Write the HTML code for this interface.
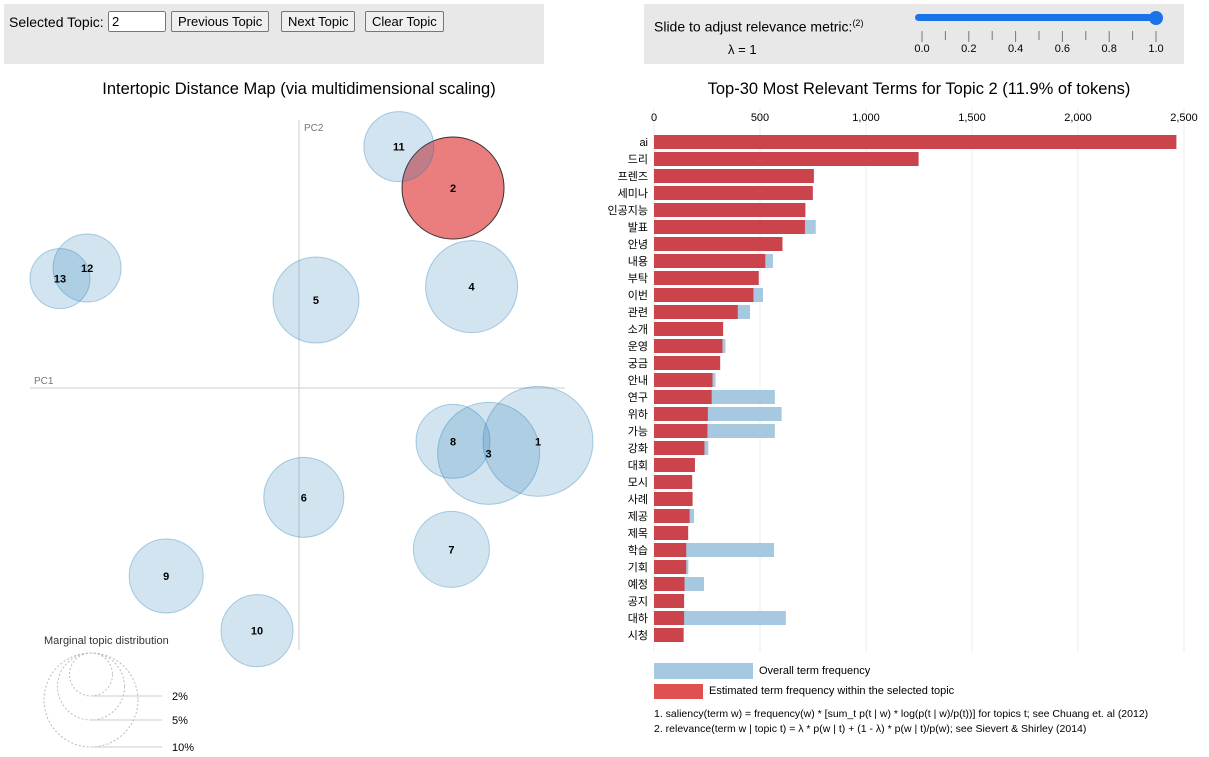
<!DOCTYPE html>
<html><head><meta charset="utf-8"><style>
body{margin:0;width:1209px;height:757px;background:#fff;font-family:"Liberation Sans","Noto Sans CJK KR",sans-serif;overflow:hidden;position:relative}
.panel{position:absolute;background:#e8e8e8}
button{font-family:"Liberation Sans",sans-serif;font-size:13px;padding:1px 6px;background:#efefef;border:1px solid #767676;border-radius:2px;height:21px}
</style></head><body>
<div class="panel" style="left:4px;top:4px;width:540px;height:60px">
<span style="position:absolute;left:5px;top:10px;font-size:14px">Selected Topic:</span>
<input value="2" style="position:absolute;left:104px;top:7px;width:58px;height:21px;box-sizing:border-box;font-size:13px">
<button style="position:absolute;left:167px;top:7px">Previous Topic</button>
<button style="position:absolute;left:277px;top:7px">Next Topic</button>
<button style="position:absolute;left:361px;top:7px">Clear Topic</button>
</div>
<div class="panel" style="left:644px;top:4px;width:540px;height:60px">
<span style="position:absolute;left:10px;top:14px;font-size:14px">Slide to adjust relevance metric:<sup style="font-size:9px">(2)</sup></span>
<span style="position:absolute;left:84px;top:38px;font-size:13px">λ = 1</span>
<svg style="position:absolute;left:0;top:0" width="540" height="60">
<rect x="271" y="10" width="241" height="7" rx="3.5" fill="#1a73e8"/><circle cx="512" cy="14" r="7" fill="#1a73e8"/>
<g id="sticks" stroke="#777"></g><g id="slabels" font-size="11" text-anchor="middle"></g>
</svg>
</div>
<svg width="1209" height="757" style="position:absolute;left:0;top:0;pointer-events:none" id="main">
<text x="299" y="94" font-size="16.5" text-anchor="middle">Intertopic Distance Map (via multidimensional scaling)</text>
<text x="919" y="94" font-size="16.5" text-anchor="middle">Top-30 Most Relevant Terms for Topic 2 (11.9% of tokens)</text>
<line x1="30" y1="388" x2="565" y2="388" stroke="#ccc"/>
<line x1="299" y1="120" x2="299" y2="650" stroke="#ccc"/>
<text x="34" y="384" font-size="10" fill="#777">PC1</text>
<text x="304" y="131" font-size="10" fill="#777">PC2</text>
<g id="circles"></g>
<text x="44" y="644" font-size="11" fill="#333">Marginal topic distribution</text>
<g id="marg" fill="none" stroke="#bbb" stroke-dasharray="2,2"></g>
<g id="bars"></g>
<rect x="654" y="663" width="99" height="16" fill="#a6c8e0"/>
<text x="759" y="674" font-size="11">Overall term frequency</text>
<rect x="654" y="684" width="49" height="15" fill="#e05050"/>
<text x="709" y="694" font-size="11">Estimated term frequency within the selected topic</text>
<text x="654" y="717" font-size="10.5">1. saliency(term w) = frequency(w) * [sum_t p(t | w) * log(p(t | w)/p(t))] for topics t; see Chuang et. al (2012)</text>
<text x="654" y="732" font-size="10.5">2. relevance(term w | topic t) = λ * p(w | t) + (1 - λ) * p(w | t)/p(w); see Sievert &amp; Shirley (2014)</text>
</svg>
<script>
const terms=["ai","드리","프렌즈","세미나","인공지능","발표","안녕","내용","부탁","이번","관련","소개","운영","궁금","안내","연구","위하","가능","강화","대회","모시","사례","제공","제목","학습","기회","예정","공지","대하","시청"];
const overall=[2464,1248,754,749,714,763,606,561,494,514,453,326,337,312,290,570,602,570,256,193,180,182,189,161,566,162,236,142,622,141];
const estimated=[2464,1248,754,749,714,712,606,525,494,469,395,326,323,312,276,272,254,252,238,193,180,182,168,161,152,152,144,142,142,139];
const ticks=[0,500,1000,1500,2000,2500];
const topicIds=[1,2,3,4,5,6,7,8,9,10,11,12,13];
const topicX=[0.45,0.29,0.357,0.325,0.032,0.009,0.287,0.29,-0.25,-0.079,0.188,-0.399,-0.45];
const topicY=[-0.2,0.75,-0.245,0.38,0.33,-0.41,-0.605,-0.2,-0.705,-0.91,0.905,0.45,0.41];
const topicR=[55,51,51,46,43,40,38,37,37,36,35,34,30];
const NS="http://www.w3.org/2000/svg";
function mk(t,a,p){const e=document.createElementNS(NS,t);for(const k in a)e.setAttribute(k,a[k]);p.appendChild(e);return e;}
const xs=v=>654+v*530/2500;
const ry=i=>135+i*17;
const bars=document.getElementById('bars');
ticks.forEach(t=>{const g=mk('g',{},bars);


mk('line',{x1:xs(t),x2:xs(t),y1:108,y2:652,stroke:'#eee'},g);
const tx=mk('text',{x:xs(t),y:121,'font-size':11,'text-anchor':'middle'},g);tx.textContent=t.toLocaleString('en-US');});
terms.forEach((t,i)=>{
const b=mk('rect',{x:xs(0),y:ry(i),width:xs(overall[i])-xs(0),height:14,fill:'#a6c8e0'},bars);


const r=mk('rect',{x:xs(0),y:ry(i),width:xs(estimated[i])-xs(0),height:14,fill:'#cc444b'},bars);


const l=mk('text',{x:648,y:ry(i)+11,'font-size':11,'text-anchor':'end'},bars);l.textContent=t;

});
const px=v=>299+v*(538-299)/0.45, py=v=>388-v*(388-148)/0.9;
const cg=document.getElementById('circles');
topicIds.forEach((id,i)=>{const sel=id===2;
const c=mk('circle',{cx:px(topicX[i]),cy:py(topicY[i]),r:topicR[i],fill:sel?'rgba(220,40,40,0.6)':'rgba(31,119,180,0.2)',stroke:sel?'#333':'rgba(31,119,180,0.35)'},cg);

});
topicIds.forEach((id,i)=>{const t=mk('text',{x:px(topicX[i]),y:py(topicY[i])+4,'font-size':11,'font-weight':'bold','text-anchor':'middle'},cg);t.textContent=id;});
const mg=document.getElementById('marg');
[[21.5,'2%'],[33.5,'5%'],[47,'10%']].forEach(([r,l])=>{
const cyy=653+r;mk('circle',{cx:91,cy:cyy,r:r},mg);
mk('line',{x1:91,x2:162,y1:cyy+r,y2:cyy+r,stroke:'#ccc','stroke-dasharray':'none'},mg);
const t=mk('text',{x:172,y:cyy+r+4,'font-size':11,fill:'#000',stroke:'none'},mg);t.textContent=l;});
const st=document.getElementById('sticks'),sl=document.getElementById('slabels');
for(let k=0;k<=10;k++){const x=278+k*23.4;mk('line',{x1:x,x2:x,y1:27,y2:k%2?36:38},st);
if(k%2===0){const t=mk('text',{x:x,y:48},sl);t.textContent=(k/10).toFixed(1);}}
</script>
</body></html>
